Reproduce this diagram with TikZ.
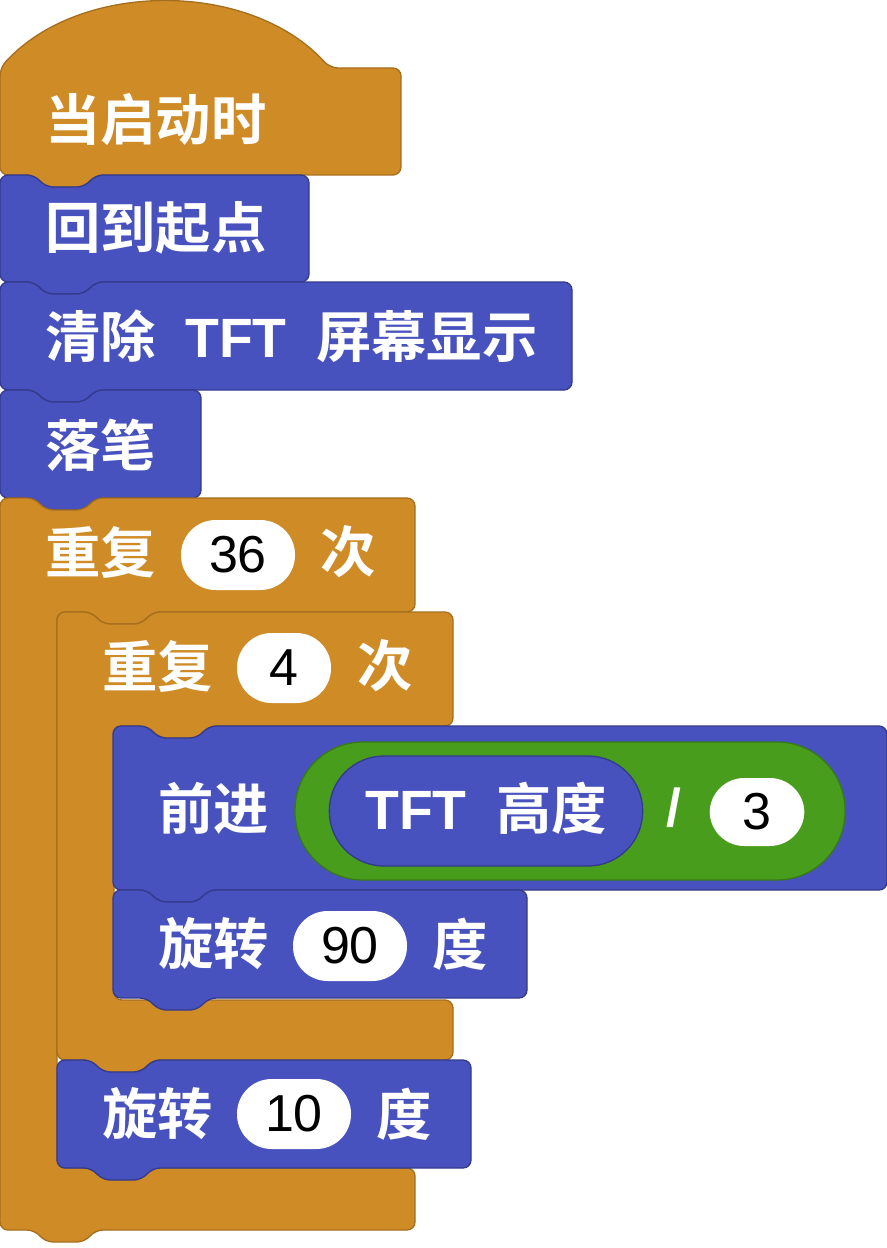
\documentclass[tikz,border=0pt]{standalone}
\usepackage{fontspec}
\setmainfont{Liberation Sans}
\newfontfamily\cjk{Noto Sans CJK SC}[BoldFont={Noto Sans CJK SC Bold}]
\definecolor{ctrl}{RGB}{207,139,38}
\definecolor{ctrlline}{RGB}{166,111,29}
\definecolor{motion}{RGB}{72,82,190}
\definecolor{motionline}{RGB}{52,58,140}
\definecolor{oper}{RGB}{73,157,29}
\definecolor{operline}{RGB}{56,122,22}
\tikzset{
  lbl/.style={text=white, font=\cjk\bfseries\fontsize{41.5}{48}\selectfont, anchor=west, inner sep=0pt},
  oval/.style={rectangle, fill=white, rounded corners=26pt, minimum height=52.5pt, minimum width=85.5pt, inner sep=0pt, font=\fontsize{39}{46}\selectfont},
  ctrlblock/.style={fill=ctrl, draw=ctrlline, line width=1pt, rounded corners=6pt},
  motionblock/.style={fill=motion, draw=motionline, line width=1pt, rounded corners=6pt}
}
\newcommand{\tft}{\hspace{22pt}{\rmfamily\bfseries TFT}\hspace{22pt}}
% plain stack block: left, top, right, bottom
\newcommand{\stackblk}[5]{%
  \draw[#5] (#1,#2) -- (#1+35,#2) -- (#1+45,#2+12) -- (#1+85,#2+12) -- (#1+95,#2) -- (#3,#2)
    -- (#3,#4) -- (#1+95,#4) -- (#1+85,#4+12) -- (#1+45,#4+12) -- (#1+35,#4) -- (#1,#4) -- cycle;}
% c block: left, top, right, arm bottom, inner top, bottom
\newcommand{\cblk}[6]{%
  \draw[ctrlblock] (#1,#2) -- (#1+35,#2) -- (#1+45,#2+12) -- (#1+85,#2+12) -- (#1+95,#2) -- (#3,#2)
    -- (#3,#4) -- (#1+152,#4) -- (#1+142,#4+12) -- (#1+102,#4+12) -- (#1+92,#4) -- (#1+57,#4)
    -- (#1+57,#5) -- (#3,#5) -- (#3,#6) -- (#1+95,#6) -- (#1+85,#6+12) -- (#1+45,#6+12) -- (#1+35,#6) -- (#1,#6) -- cycle;}
\begin{document}
\begin{tikzpicture}[x=0.75pt, y=-0.75pt]
\useasboundingbox (0,0) rectangle (887,1248);

% hat block
\draw[ctrlblock] (0,68) .. controls (80,-20) and (250,-20) .. (330,68) -- (401,68) -- (401,175)
  -- (95,175) -- (85,187) -- (45,187) -- (35,175) -- (0,175) -- cycle;
\node[lbl] (start) at (45,120) {当启动时};

\stackblk{0}{175}{309}{282}{motionblock}
\node[lbl] (home) at (45,228) {回到起点};

\stackblk{0}{282}{572}{390}{motionblock}
\node[lbl] (clear) at (45,336) {清除\tft 屏幕显示};

\stackblk{0}{390}{201}{498}{motionblock}
\node[lbl] (pendown) at (45,445) {落笔};

% repeat 36
\cblk{0}{498}{415}{612}{1168}{1230}
\node[lbl] (rep1) at (45,552) {重复};
\node[oval] (n36) at (238,555) {36};
\node[lbl] (rep1b) at (320,552) {次};

% repeat 4
\cblk{57}{612}{453}{726}{1000}{1060}
\node[lbl] (rep2) at (102,666) {重复};
\node[oval, minimum width=70.5pt] (n4) at (284,668) {4};
\node[lbl] (rep2b) at (357,666) {次};

% forward
\stackblk{113}{726}{887}{890}{motionblock}
\node[lbl] (fwd) at (158,808) {前进};
\node[oval, fill=oper, draw=operline, line width=1pt, minimum width=412.5pt, minimum height=103.5pt, rounded corners=51pt] (div) at (570,811) {};
\node[oval, fill=motion, draw=motionline, line width=1pt, minimum width=235pt, minimum height=82.5pt, rounded corners=41pt] (tfth) at (486,811) {};
\node[lbl] (tfttxt) at (365,808) {{\rmfamily\bfseries TFT}\hspace{22pt}高度};
\node[lbl, font=\bfseries\fontsize{40}{48}\selectfont] (slash) at (666,808) {/};
\node[oval, minimum width=71pt, minimum height=51pt] (n3) at (757,812) {3};

% turn 90
\stackblk{113}{890}{527}{998}{motionblock}
\node[lbl] (turn1) at (158,944) {旋转};
\node[oval] (n90) at (350,946) {90};
\node[lbl] (turn1b) at (432,944) {度};

% turn 10
\stackblk{57}{1060}{471}{1168}{motionblock}
\node[lbl] (turn2) at (102,1114) {旋转};
\node[oval] (n10) at (294,1114) {10};
\node[lbl] (turn2b) at (376,1114) {度};
\end{tikzpicture}
\end{document}
